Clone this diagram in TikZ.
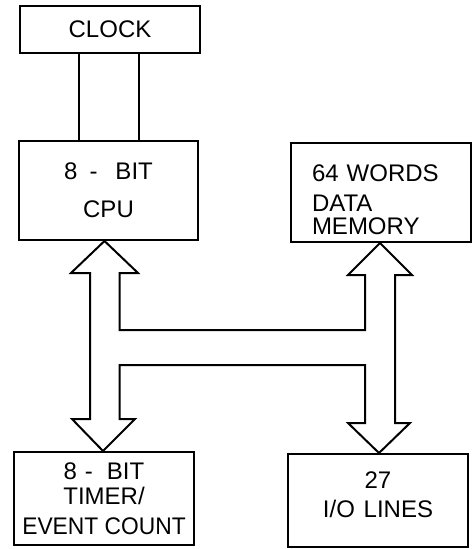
\documentclass[tikz,border=0pt]{standalone}
\usepackage{fontspec}
\usepackage{graphicx}
\setmainfont{Liberation Sans}
\begin{document}
\begin{tikzpicture}[x=1pt,y=-1pt,line width=2pt,
  box/.style={draw,rectangle,inner sep=0pt,align=center,font=\fontsize{24}{26}\selectfont},
  bus/.style={draw,line join=miter}]
\useasboundingbox (0,0) rectangle (473,549);
\node[box,minimum width=180,minimum height=47] (clock) at (110,29.5) {CLOCK};
\node[box,minimum width=179,minimum height=99,font=\fontsize{24}{38}\selectfont] (cpu) at (108.5,190.5) {8\hspace{12pt}-\hspace{18pt}BIT\\CPU};
\node[box,minimum width=180,minimum height=99,text width=138,align=left,font=\fontsize{24}{23}\selectfont] (mem) at (381,192.5) {\rule{0pt}{31.7pt}64 WORDS\\[6.5pt]DATA\\MEMORY};
\node[box,minimum width=180,minimum height=93,font=\fontsize{24}{25}\selectfont] (timer) at (104,498.5) {8\hspace{8pt}-\hspace{14pt}BIT\\TIMER/\\[5.5pt]\scalebox{0.95}[1]{EVENT COUNT}};
\node[box,minimum width=180,minimum height=93,font=\fontsize{24}{29}\selectfont] (io) at (378,500.5) {27\\I/O\hspace{2pt} LINES\rule[-12pt]{0pt}{12pt}};
\draw (clock.south -| 79,0) -- (cpu.north -| 79,0);
\draw (clock.south -| 139,0) -- (cpu.north -| 139,0);
\draw[bus] (cpu.south -| 104.5,0) -- (138,273) -- (119.5,273) -- (119.5,330) -- (365,330)
  -- (365,275) -- (348,275) -- (mem.south -| 380,0) -- (412,275) -- (395,275)
  -- (395,423) -- (410,423) -- (io.north -| 379,0) -- (348,423) -- (365,423)
  -- (365,365) -- (119.5,365) -- (119.5,419) -- (135,419) -- (timer.north -| 103,0)
  -- (72,419) -- (90,419) -- (90,273) -- (71,273) -- cycle;
\end{tikzpicture}
\end{document}
